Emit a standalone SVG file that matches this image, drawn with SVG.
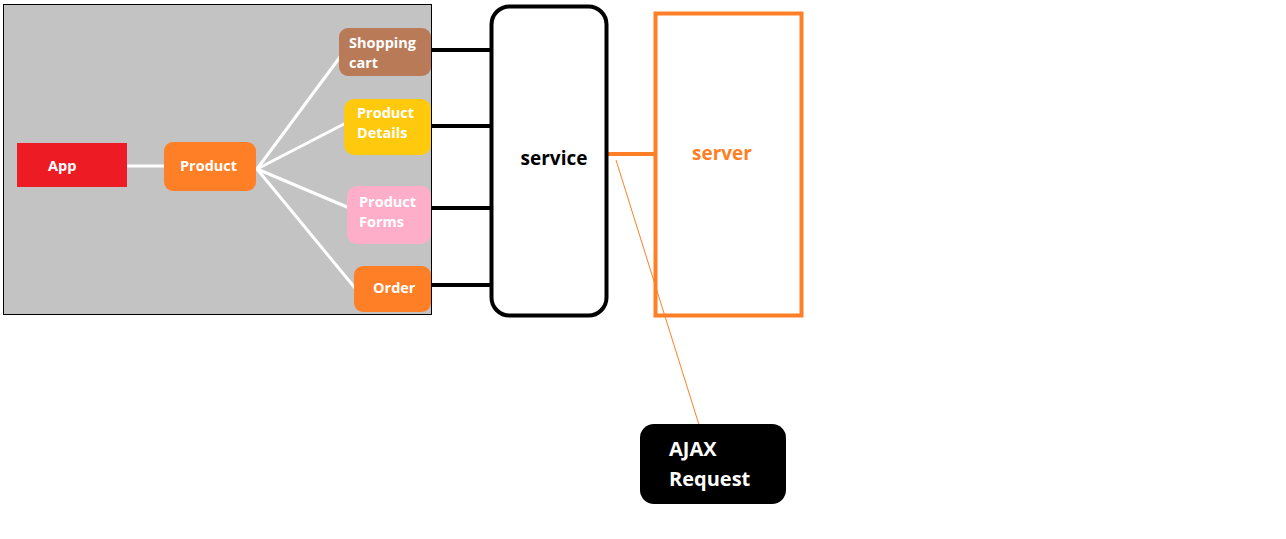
<svg xmlns="http://www.w3.org/2000/svg" width="1286" height="539" viewBox="0 0 1286 539">
<style>
.t{font-family:"Open Sans","Liberation Sans",sans-serif;font-weight:bold;fill:#fff;font-size:14.5px}
.big{font-family:"Open Sans","Liberation Sans",sans-serif;font-weight:bold;font-size:19px}
.aj{font-size:20px}
.wl{stroke:#fff;stroke-width:3;fill:none;stroke-linecap:round}
.bl{stroke:#000;stroke-width:4;fill:none}
</style>
<rect width="1286" height="539" fill="#fff"/>
<rect id="panel" x="3.5" y="4.5" width="428" height="310" fill="#c3c3c3" stroke="#000" stroke-width="1"/>
<g id="connectors">
<line class="wl" x1="126" y1="166" x2="165" y2="166"/>
<line class="wl" x1="257" y1="169" x2="340" y2="57"/>
<line class="wl" x1="257" y1="169" x2="344" y2="124"/>
<line class="wl" x1="257" y1="169" x2="347" y2="207"/>
<line class="wl" x1="257" y1="169" x2="355" y2="288"/>
<line class="bl" x1="431" y1="50" x2="491" y2="50"/>
<line class="bl" x1="431" y1="126" x2="491" y2="126"/>
<line class="bl" x1="431" y1="208" x2="491" y2="208"/>
<line class="bl" x1="431" y1="285" x2="491" y2="285"/>
<line x1="607" y1="154" x2="655" y2="154" stroke="#ff7f27" stroke-width="4" stroke-linecap="round"/>
<line x1="616" y1="160" x2="700" y2="428" stroke="#ff7f27" stroke-width="1"/>
</g>
<g id="app"><rect x="17" y="143" width="110" height="44" fill="#ed1c24"/><text class="t" x="48" y="171">App</text></g>
<g id="product"><rect x="164" y="142" width="92" height="49" rx="9" fill="#ff7f27"/><text class="t" x="180" y="171">Product</text></g>
<g id="shopping-cart"><rect x="339" y="28" width="92" height="48" rx="9" fill="#b97a57"/><text class="t" x="349" y="48">Shopping</text><text class="t" x="349" y="68">cart</text></g>
<g id="product-details"><rect x="344" y="99" width="87" height="56" rx="10" fill="#ffc90e"/><text class="t" x="357" y="118">Product</text><text class="t" x="357" y="138">Details</text></g>
<g id="product-forms"><rect x="347" y="186" width="84" height="58" rx="10" fill="#ffaec9"/><text class="t" x="359" y="207">Product</text><text class="t" x="359" y="227">Forms</text></g>
<g id="order"><rect x="354" y="266" width="77" height="46" rx="9" fill="#ff7f27"/><text class="t" x="373" y="293">Order</text></g>
<g id="service"><rect x="491.5" y="6.5" width="115" height="309" rx="18" fill="#fff" stroke="#000" stroke-width="4"/><text class="big" x="554" y="165" text-anchor="middle" fill="#000">service</text></g>
<g id="server"><rect x="655.5" y="13.5" width="146" height="302" fill="none" stroke="#ff7f27" stroke-width="4"/><text class="big" x="722" y="160" text-anchor="middle" fill="#ff7f27">server</text></g>
<g id="ajax"><rect x="640" y="424" width="146" height="80" rx="14" fill="#000"/><text class="big aj" x="669" y="456" fill="#fff">AJAX</text><text class="big aj" x="669" y="486" fill="#fff">Request</text></g>
</svg>
